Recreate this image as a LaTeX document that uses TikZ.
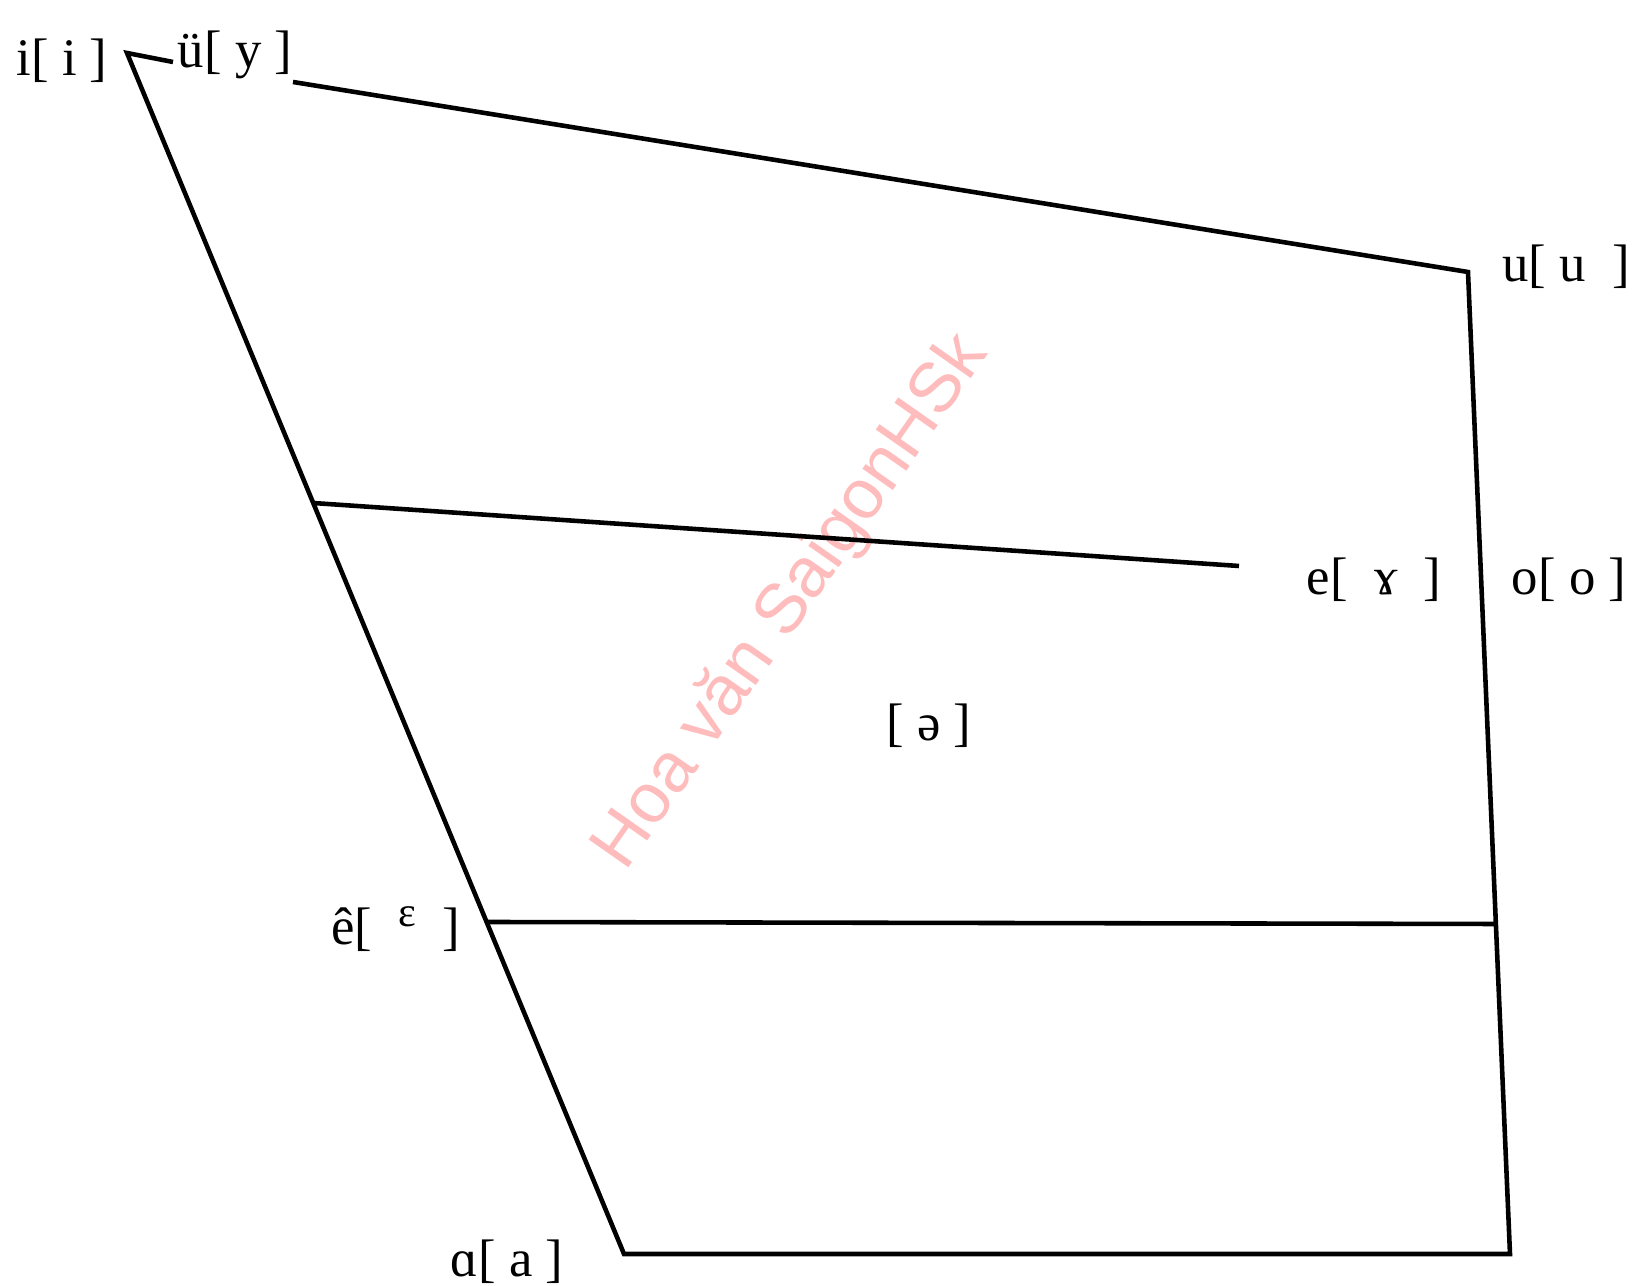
\documentclass[tikz,border=0pt]{standalone}
\usepackage{fontspec}
\setmainfont{Liberation Serif}
\newfontfamily\wmfont{Liberation Sans}
\usepackage{tikz}
\usepackage{xcolor}
\usetikzlibrary{positioning,calc}
\definecolor{wmpink}{RGB}{255,188,188}

\begin{document}
\begin{tikzpicture}[x=0.01cm, y=-0.01cm, lbl/.style={font=\fontsize{15}{18}\selectfont, inner sep=0pt}, vline/.style={line width=1.3pt, line join=miter}]
  \useasboundingbox (0,0) rectangle (1635,1286);
  \node[rotate=55, text=wmpink, inner sep=0pt, font=\wmfont\fontsize{20}{24}\selectfont] (wm) at (792,602) {Hoa văn SaigonHSk};
  \coordinate (i) at (127,53);
  \coordinate (itick) at (173,62);
  \coordinate (ytop) at (293,82);
  \coordinate (u) at (1468,272);
  \coordinate (a) at (624,1254);
  \coordinate (abot) at (1510,1254);
  \coordinate (emid) at (313,503);
  \coordinate (eend) at (1239,566);
  \coordinate (ehat) at (487,922);
  \coordinate (ehatr) at (1496,924);
  \node[lbl] (il) at (62,61) {i[ i ]};
  \node[lbl] (yl) at (235,55) {ü[ y ]};
  \node[lbl] (ul) at (1566,267) {u[ u~ ]};
  \node[lbl] (el) at (1374,580) {e[~ ɤ ~]};
  \node[lbl] (ol) at (1569,580) {o[ o ]};
  \node[lbl] (schwa) at (929,726) {[ ə ]};
  \node[lbl] (ehl) at (396,929) {ê[~ \raisebox{5pt}{\fontsize{12}{14}\selectfont ɛ} ~]};
  \node[lbl] (al) at (507,1262) {ɑ[ a ]};
  \draw[vline] (itick) -- (i) -- (a) -- (abot) -- (u) -- (ytop);
  \draw[vline] (emid) -- (eend);
  \draw[vline] (ehat) -- (ehatr);
\end{tikzpicture}
\end{document}
